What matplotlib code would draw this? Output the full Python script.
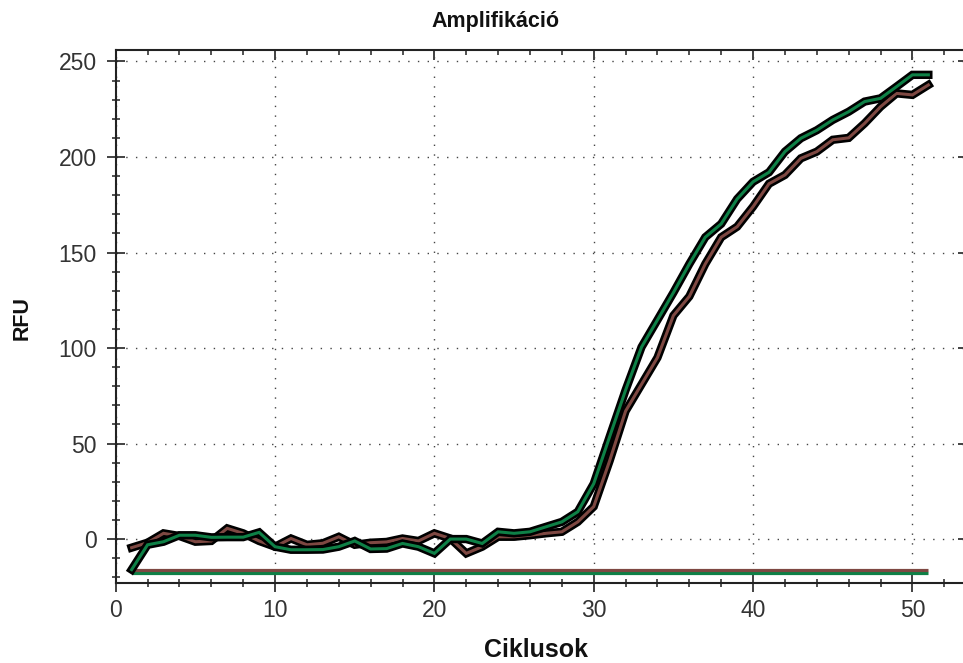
import matplotlib
matplotlib.use("Agg")
import matplotlib.pyplot as plt
import matplotlib.patheffects as pe
from matplotlib.ticker import MultipleLocator

plt.rcParams['font.family'] = ['Liberation Sans', 'DejaVu Sans']

# Amplification data (RFU per cycle)
cycles = list(range(1, 52))
rfu_brown = [-4.5, -1.9, 3.0, 1.6, -1.4, -1.0, 5.6, 3.0, -1.0, -4.0,
             0.3, -3.0, -2.2, 1.2, -3.0, -1.9, -1.5, 0.3, -1.0, 3.0,
             0.3, -7.5, -4.0, 1.2, 1.2, 2.0, 3.0, 3.8, 9.0, 17.0,
             41.0, 67.0, 81.0, 95.0, 117.0, 127.0, 144.0, 158.0, 163.5, 174.0,
             186.0, 190.6, 199.3, 202.8, 209.0, 210.0, 217.6, 226.3, 233.3, 232.5,
             237.7]
rfu_green = [-16.0, -3.0, -1.4, 2.0, 2.0, 0.9, 1.0, 1.0, 3.5, -4.0,
             -5.6, -5.6, -5.5, -4.0, -1.0, -5.2, -5.0, -2.3, -4.0, -7.5,
             0.0, 0.0, -2.3, 3.8, 3.0, 3.8, 6.4, 9.0, 14.3, 29.0,
             53.6, 78.0, 100.5, 114.7, 129.0, 144.0, 158.0, 165.0, 178.0, 187.0,
             192.0, 202.8, 209.8, 214.0, 219.4, 223.7, 229.0, 230.7, 236.8, 243.0,
             243.0]
# Flat negative-control traces
baseline_cycles = [1, 51]
baseline_brown = [-16.1, -16.1]
baseline_green = [-17.6, -17.6]

brown = '#7e4842'
green = '#0e8046'

W, H = 963, 663
fig = plt.figure(figsize=(W / 100, H / 100), dpi=100)
left_px, right_px, top_px, bottom_px = 115.7, 965.0, 50.0, 583.0
ax = fig.add_axes([left_px / W, 1 - bottom_px / H,
                   (right_px - left_px) / W, (bottom_px - top_px) / H])

ax.set_xlim(0, 53.3)
ax.set_ylim(-23.0, 256.0)

# Grid
ax.xaxis.set_major_locator(MultipleLocator(10))
ax.xaxis.set_minor_locator(MultipleLocator(2))
ax.yaxis.set_major_locator(MultipleLocator(50))
ax.yaxis.set_minor_locator(MultipleLocator(10))
ax.grid(True, which='major', color='#444444', linewidth=1.0,
        linestyle=(0, (1, 6)))
ax.set_axisbelow(True)

# Negative-control lines
ax.plot(baseline_cycles, baseline_green, color=green, lw=2.3,
        solid_capstyle='butt', zorder=3)
ax.plot(baseline_cycles, baseline_brown, color=brown, lw=2.3,
        solid_capstyle='butt', zorder=3)

# Amplification curves with dark outline
outline = [pe.Stroke(linewidth=6.0, foreground='black'), pe.Normal()]
ax.plot(cycles, rfu_brown, color=brown, lw=2.2, path_effects=outline,
        solid_joinstyle='miter', zorder=4)
ax.plot(cycles, rfu_green, color=green, lw=2.2, path_effects=outline,
        solid_joinstyle='miter', zorder=5)

# Spines and ticks
for s in ('top', 'right'):
    ax.spines[s].set_visible(False)
for s in ('left', 'bottom'):
    ax.spines[s].set_linewidth(1.5)
    ax.spines[s].set_color('#222222')

ax.tick_params(which='major', direction='inout', length=13.5, width=1.2,
               colors='#222222', labelsize=16.5, labelcolor='#333333')
ax.tick_params(which='minor', direction='inout', length=6, width=1.1,
               colors='#222222')
ax.tick_params(axis='y', which='major', pad=7)
ax.tick_params(axis='x', which='major', pad=5)

top = ax.secondary_xaxis('top')
top.xaxis.set_major_locator(MultipleLocator(10))
top.xaxis.set_minor_locator(MultipleLocator(2))
top.tick_params(which='major', direction='in', length=7, width=1.2,
                colors='#222222', labeltop=False)
top.tick_params(which='minor', direction='in', length=3.6, width=1.1,
                colors='#222222')
top.spines['top'].set_linewidth(1.5)
top.spines['top'].set_color('#222222')

right = ax.secondary_yaxis('right')
right.yaxis.set_major_locator(MultipleLocator(50))
right.yaxis.set_minor_locator(MultipleLocator(10))
right.tick_params(which='major', direction='in', length=5, width=1.2,
                  colors='#222222', labelright=False)
right.tick_params(which='minor', direction='in', length=1.5, width=1.1,
                  colors='#222222')
right.spines['right'].set_visible(False)

fig.text(495 / W, 1 - 22 / H, 'Amplifikáció', ha='center', va='center',
         fontsize=15.5, fontweight='bold', color='#111111')
fig.text(536 / W, 1 - 650 / H, 'Ciklusok', ha='center', va='center',
         fontsize=18, fontweight='bold', color='#111111')
fig.text(22 / W, 1 - 318 / H, 'RFU', ha='center', va='center',
         rotation=90, fontsize=15.5, fontweight='bold', color='#111111')

fig.savefig('out.png', dpi=100)
